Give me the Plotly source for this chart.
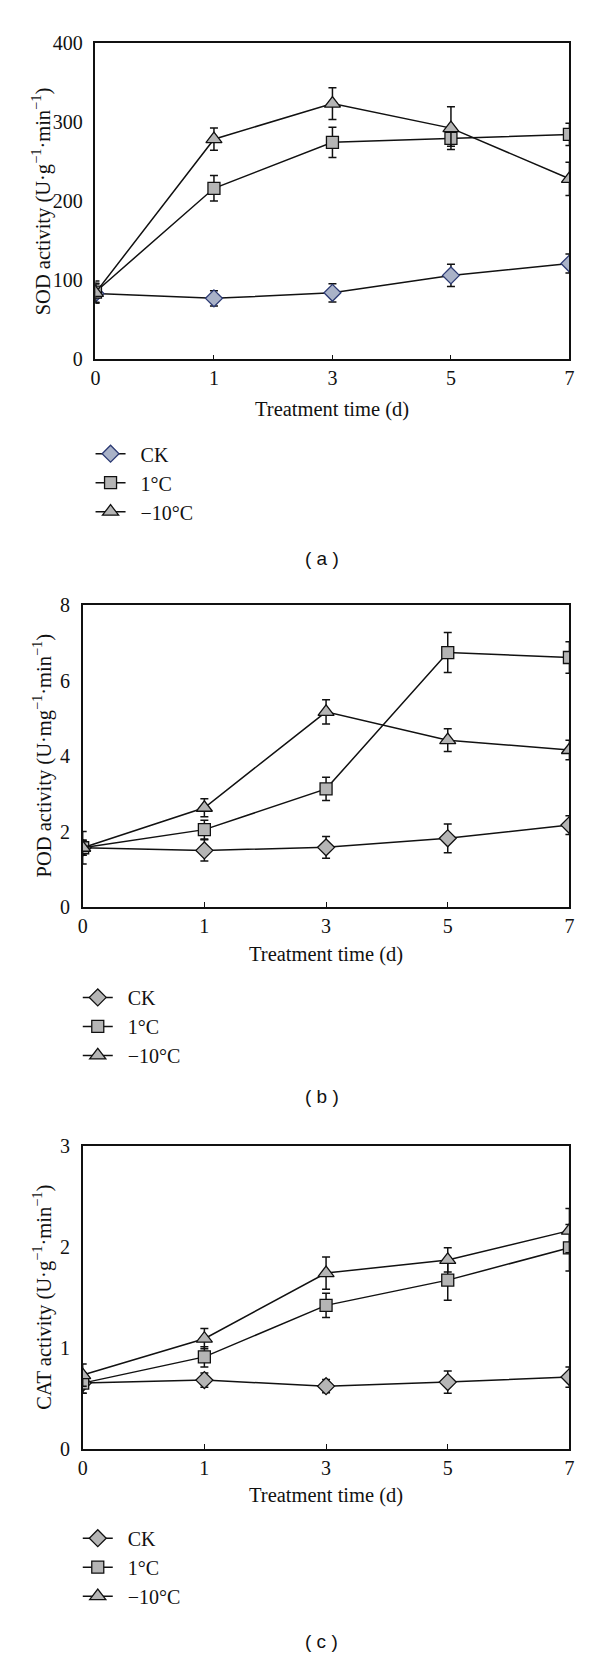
import plotly.graph_objects as go

W, H = 600, 1666

times = ["0", "1", "3", "5", "7"]
series_names = ["CK", "1°C", "−10°C"]

sod_ck = [83, 77, 84, 106, 121]
sod_ck_err = [12, 9.5, 11.5, 14, 12]
sod_1c = [85, 216, 274, 279, 284]
sod_1c_err = [14, 16, 19, 10, 14]
sod_m10 = [84, 278, 323, 292, 228]
sod_m10_err = [12, 14, 20, 27, 21]

pod_ck = [1.57, 1.50, 1.58, 1.82, 2.17]
pod_ck_err = [0.43, 0.28, 0.29, 0.38, 0.25]
pod_1c = [1.57, 2.05, 3.13, 6.74, 6.61]
pod_1c_err = [0.20, 0.25, 0.31, 0.53, 0.42]
pod_m10 = [1.57, 2.63, 5.17, 4.42, 4.16]
pod_m10_err = [0.20, 0.24, 0.32, 0.30, 0.26]

cat_ck = [0.65, 0.68, 0.62, 0.66, 0.71]
cat_ck_err = [0.10, 0.07, 0.065, 0.11, 0.10]
cat_1c = [0.65, 0.91, 1.42, 1.67, 1.99]
cat_1c_err = [0.10, 0.10, 0.12, 0.20, 0.23]
cat_m10 = [0.73, 1.09, 1.74, 1.87, 2.16]
cat_m10_err = [0.11, 0.10, 0.16, 0.12, 0.22]

y_titles = [
    "SOD activity (U·g<sup>−1</sup>·min<sup>−1</sup>)",
    "POD activity (U·mg<sup>−1</sup>·min<sup>−1</sup>)",
    "CAT activity (U·g<sup>−1</sup>·min<sup>−1</sup>)",
]
x_title = "Treatment time (d)"
panel_labels = ["( a )", "( b )", "( c )"]
y_ranges = [[0, 400], [0, 8], [0, 3]]
y_dticks = [100, 2, 1]

# layout in pixels (top, bottom, left, right)
panels_px = [(32, 353, 92, 574), (602, 908, 79, 574), (1150, 1457, 79, 574)]
legend_px = [(87, 478), (74, 1029), (74, 1577)]   # left x, middle-row y
label_y_px = [555, 1100, 1652]
xtitle_y_px = [404, 956, 1504]

SERIF = "Liberation Serif"
GRAY = "#b5b5b5"
NB = "\u00a0\u00a0"

def py(p):
    return 1 - p / H

def px(p):
    return p / W

data = [
    [(sod_ck, sod_ck_err), (sod_1c, sod_1c_err), (sod_m10, sod_m10_err)],
    [(pod_ck, pod_ck_err), (pod_1c, pod_1c_err), (pod_m10, pod_m10_err)],
    [(cat_ck, cat_ck_err), (cat_1c, cat_1c_err), (cat_m10, cat_m10_err)],
]
symbols = ["diamond", "square", "triangle-up"]
sizes = [13, 12, 14]

fig = go.Figure()
annotations = []
layout = {}
for i in range(3):
    sfx = "" if i == 0 else str(i + 1)
    leg = "legend" if i == 0 else f"legend{i + 1}"
    top, bot, left, right = panels_px[i]
    for j in range(3):
        vals, errs = data[i][j]
        fill = GRAY
        outline = "#111111"
        if i == 0 and j == 0:
            fill = "#a9b2c8"
            outline = "#2c3a73"
        fig.add_trace(go.Scatter(
            x=times, y=vals, name=NB + series_names[j],
            xaxis="x" + sfx, yaxis="y" + sfx, legend=leg,
            mode="lines+markers",
            line=dict(color="#111111", width=1.5),
            marker=dict(symbol=symbols[j], size=sizes[j], color=fill,
                        line=dict(color=outline, width=1.3)),
            error_y=dict(type="data", array=errs, visible=True,
                         color="#111111", thickness=1.5, width=4),
        ))
    layout["xaxis" + sfx] = dict(
        domain=[px(left), px(right)], anchor="y" + sfx,
        type="category", range=[0, 4],
        showline=True, linecolor="#111111", linewidth=1.5, mirror=True,
        ticks="inside", ticklen=5, tickcolor="#111111", tickwidth=1.2,
        showgrid=False, zeroline=False,
        tickfont=dict(family=SERIF, size=20, color="#111111"),
    )
    layout["yaxis" + sfx] = dict(
        domain=[py(bot), py(top)], anchor="x" + sfx,
        range=y_ranges[i], dtick=y_dticks[i],
        showline=True, linecolor="#111111", linewidth=1.5, mirror=True,
        ticks="", showgrid=False, zeroline=False, ticklabelstandoff=7,
        tickfont=dict(family=SERIF, size=20, color="#111111"),
    )
    lx, ly = legend_px[i]
    layout[leg] = dict(
        x=px(lx), y=py(ly), xanchor="left", yanchor="middle",
        font=dict(family=SERIF, size=20, color="#111111"),
        bgcolor="rgba(0,0,0,0)", tracegroupgap=0,
    )
    annotations.append(dict(
        text=y_titles[i], textangle=-90, xref="paper", yref="paper",
        x=px(38), y=py((top + bot) / 2), xanchor="center", yanchor="middle",
        showarrow=False, font=dict(family=SERIF, size=20.5, color="#111111"),
    ))
    annotations.append(dict(
        text=x_title, xref="paper", yref="paper",
        x=px((left + right) / 2), y=py(xtitle_y_px[i]),
        xanchor="center", yanchor="middle",
        showarrow=False, font=dict(family=SERIF, size=20.5, color="#111111"),
    ))
    annotations.append(dict(
        text=panel_labels[i], xref="paper", yref="paper",
        x=px(322), y=py(label_y_px[i]), xanchor="center", yanchor="middle",
        showarrow=False, font=dict(family="Liberation Sans", size=19, color="#111111"),
    ))

fig.update_layout(
    width=W, height=H, margin=dict(l=0, r=0, t=0, b=0),
    paper_bgcolor="white", plot_bgcolor="white",
    showlegend=True, annotations=annotations, **layout,
)
fig.write_html("out.html", config={"displayModeBar": False},
               post_script="document.body.style.margin='0';")
